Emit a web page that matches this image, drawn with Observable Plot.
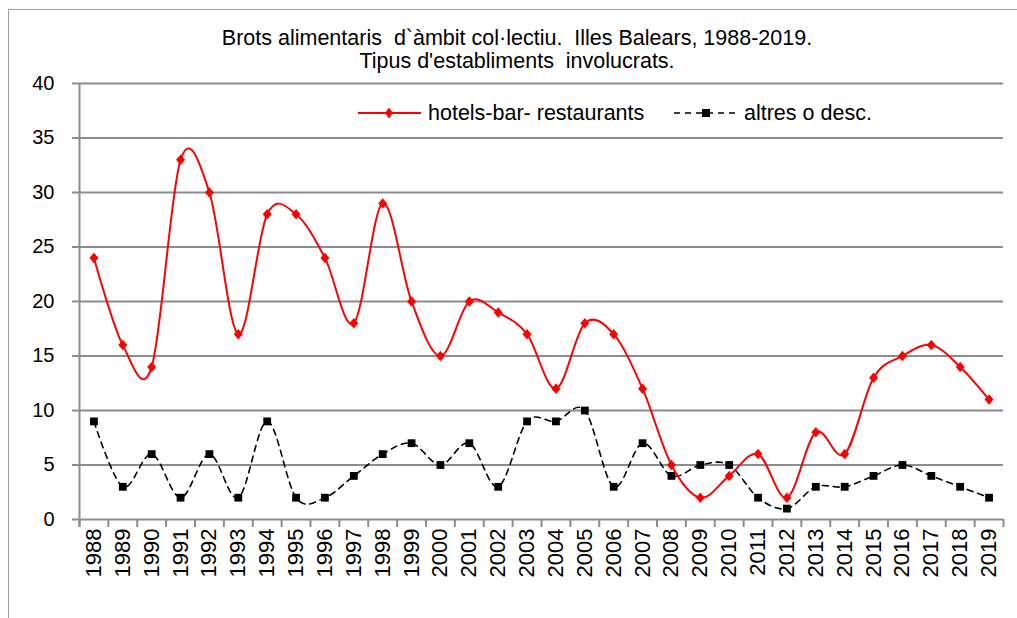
<!DOCTYPE html>
<html><head><meta charset="utf-8">
<script src="https://cdn.jsdelivr.net/npm/d3@7"></script>
<script src="https://cdn.jsdelivr.net/npm/@observablehq/plot@0.6"></script>
<style>
body{margin:0;background:#fff;font-family:"Liberation Sans",Arial,sans-serif;}
#wrap{position:relative;width:1017px;height:618px;overflow:hidden;background:#fff;}
#frame{position:absolute;left:8px;top:9px;width:1060px;height:700px;border:1.5px solid #a0a0a0;}
#title{position:absolute;left:0;width:1034px;top:27px;text-align:center;font-size:21.5px;line-height:23px;color:#000;white-space:pre;letter-spacing:0px;}
#chart{position:absolute;left:0;top:0;}
.leg{position:absolute;top:100px;font-size:21.5px;line-height:26px;color:#000;display:flex;align-items:center;white-space:pre;}
.leg svg{margin-right:7px;}
</style></head>
<body>
<div id="wrap">
  <div id="frame"></div>
  <div id="chart"></div>
  <div id="title"></div>
  <div id="leg1" class="leg" style="left:358px"></div>
  <div id="leg2" class="leg" style="left:674px"></div>
</div>
<script>
const years = [1988,1989,1990,1991,1992,1993,1994,1995,1996,1997,1998,1999,2000,2001,2002,2003,2004,2005,2006,2007,2008,2009,2010,2011,2012,2013,2014,2015,2016,2017,2018,2019];
const hotels = [24,16,14,33,30,17,28,28,24,18,29,20,15,20,19,17,12,18,17,12,5,2,4,6,2,8,6,13,15,16,14,11];
const altres = [9,3,6,2,6,2,9,2,2,4,6,7,5,7,3,9,9,10,3,7,4,5,5,2,1,3,3,4,5,4,3,2];
const yTicks = [0,5,10,15,20,25,30,35,40];
const titleLines = ["Brots alimentaris  d`àmbit col·lectiu.  Illes Balears, 1988-2019.", "Tipus d'establiments  involucrats."];
const seriesNames = ["hotels-bar- restaurants", "altres o desc."];

const dataH = years.map((y,i)=>({year:y, value:hotels[i]}));
const dataA = years.map((y,i)=>({year:y, value:altres[i]}));
const bounds = years.map(y=>y-0.5).concat([years[years.length-1]+0.5]);
const gray = "#8c8c8c";
const curve = d3.curveCatmullRom.alpha(0);
const diamond = {draw(ctx, size){ const r = Math.sqrt(size/Math.PI); const hx = r*0.9, hy = r*1.05;
  ctx.moveTo(0,-hy); ctx.lineTo(hx,0); ctx.lineTo(0,hy); ctx.lineTo(-hx,0); ctx.closePath(); }};

const chart = Plot.plot({
  width:1017, height:618,
  marginLeft:79, marginRight:14, marginTop:83, marginBottom:99,
  x:{domain:[bounds[0], bounds[bounds.length-1]]},
  y:{domain:[0,40]},
  style:{fontFamily:'"Liberation Sans", Arial, sans-serif', fontSize:"20px", color:"#000", background:"transparent"},
  marks:[
    Plot.gridY(yTicks,{stroke:gray, strokeOpacity:1, strokeWidth:2}),
    Plot.ruleX([bounds[0]],{stroke:gray, strokeWidth:2, insetBottom:-8}),
    Plot.axisY(yTicks,{tickSize:7, tickPadding:18, stroke:gray, strokeWidth:2, label:null, fontSize:20, tickFormat:d=>String(d)}),
    Plot.axisX(bounds,{tickSize:8, stroke:gray, strokeWidth:2, tickFormat:()=>"", label:null}),
    Plot.axisX(years,{tickSize:0, tickPadding:9, tickRotate:-90, fontSize:22, tickFormat:d=>String(d), label:null}),
    Plot.line(dataA,{x:"year", y:"value", curve, stroke:"#000", strokeWidth:1.6, strokeDasharray:"6,5"}),
    Plot.dot(dataA,{x:"year", y:"value", symbol:"square", fill:"#000", r:4.4}),
    Plot.line(dataH,{x:"year", y:"value", curve, stroke:"#ff0000", strokeWidth:2}),
    Plot.dot(dataH,{x:"year", y:"value", symbol:diamond, fill:"#ff0000", r:5})
  ]
});
document.getElementById("chart").appendChild(chart);
document.getElementById("title").textContent = titleLines.join("\n");
document.getElementById("leg1").innerHTML =
  '<svg width="63" height="14"><line x1="0" y1="7" x2="63" y2="7" stroke="#ff0000" stroke-width="2"/><path d="M31,1.5 L35,7 L31,12.5 L27,7 Z" fill="#ff0000"/></svg><span></span>';
document.querySelector("#leg1 span").textContent = seriesNames[0];
document.getElementById("leg2").innerHTML =
  '<svg width="63" height="14"><line x1="0" y1="7" x2="63" y2="7" stroke="#000" stroke-width="1.6" stroke-dasharray="6,5"/><rect x="28" y="3" width="8" height="8" fill="#000"/></svg><span></span>';
document.querySelector("#leg2 span").textContent = seriesNames[1];
</script>
</body></html>
